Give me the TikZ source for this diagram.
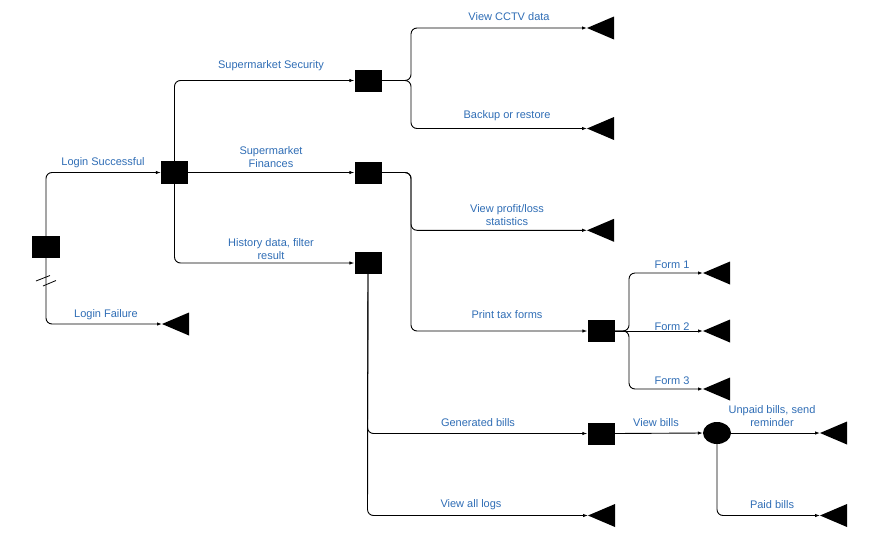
\documentclass[tikz,border=0pt]{standalone}
\usepackage{fontspec}
\setmainfont{Liberation Sans}
\usetikzlibrary{arrows.meta,shapes.geometric}
\definecolor{lbl}{HTML}{2F6DB5}
\tikzset{
  box/.style={draw=none,fill=black,rectangle,minimum width=27pt,minimum height=22pt,inner sep=0pt},
  dot/.style={draw=none,fill=black,ellipse,minimum width=28pt,minimum height=22pt,inner sep=0pt},
  conn/.style={line width=0.9pt,rounded corners=6pt,-{Latex[length=5pt,width=3.5pt]}},
  plain/.style={line width=0.9pt,rounded corners=6pt},
  lab/.style={text=lbl,font=\fontsize{11pt}{13pt}\selectfont,align=center,inner sep=0pt,yshift=-1.5pt},
  tri/.style={fill=black}
}
\newcommand{\myTermTri}[1]{\fill[tri] (#1) -- ++(27,-11.5) -- ++(0,23) -- cycle;}
\begin{document}
\begin{tikzpicture}[x=1pt,y=-1pt]
\useasboundingbox (0,0) rectangle (893,533);
% boxes
\node[box,minimum width=28pt] (login) at (46,247) {};
\node[box,minimum height=23pt] (ls) at (174.5,172.5) {};
\node[box] (sec) at (368,80.5) {};
\node[box] (fin) at (368,172.5) {};
\node[box] (hist) at (368,263) {};
\node[box] (form) at (601,331) {};
\node[box] (gen) at (601,433.5) {};
\node[dot] (ell) at (717,433) {};
% triangle tips
\coordinate (fail) at (162,324);
\coordinate (cctv) at (587,28);
\coordinate (backup) at (587,128.5);
\coordinate (profit) at (587,230.3);
\coordinate (f1) at (703,273);
\coordinate (f2) at (703,331);
\coordinate (f3) at (703,389);
\coordinate (unpaid) at (820,433);
\coordinate (paid) at (820,515.5);
\coordinate (logs) at (588,515.5);
\foreach \t in {fail,cctv,backup,profit,f1,f2,f3,unpaid,paid,logs}{\myTermTri{\t}}
% connectors
\draw[conn] (login.north) -- (46,172.5) -- (ls.west);
\draw[conn] (login.south) -- (46,324) -- (fail);
\draw[line width=0.8pt] (36,281) -- (50,275.5) (43,286) -- (56,280.5);
\draw[conn] (ls.north) -- (174.5,80.5) -- (sec.west);
\draw[conn] (ls.east) -- (fin.west);
\draw[conn] (ls.south) -- (174.5,263) -- (hist.west);
\draw[conn] (sec.east) -- (411,80.5) -- (411,28) -- (cctv);
\draw[conn] (sec.east) -- (411,80.5) -- (411,128.5) -- (backup);
\draw[conn] (fin.east) -- (411,172.5) -- (411,230.3) -- (profit);
\draw[conn] (fin.east) -- (411,172.5) -- (411,331) -- (form.west);
\draw[conn] (form.east) -- (629,331) -- (629,273) -- (f1);
\draw[conn] (form.east) -- (f2);
\draw[conn] (form.east) -- (629,331) -- (629,389) -- (f3);
\draw[conn] (hist.south) -- (367.5,433.5) -- (gen.west);
\draw[conn] (hist.south) -- (367.5,515.5) -- (logs);
\draw[conn] (gen.east) -- (ell.west);
\draw[conn] (ell.east) -- (unpaid);
\draw[conn] (ell.south) -- (717,515.5) -- (paid);
% labels
\node[lab] (l1) at (103,161) {Login Successful};
\node[lab] (l2) at (106,313) {Login Failure};
\node[lab] (l3) at (271,64) {Supermarket Security};
\node[lab] (l4) at (271,156) {Supermarket\\Finances};
\node[lab] (l5) at (271,247.5) {History data, filter\\result};
\node[lab] (l6) at (509,15) {View CCTV data};
\node[lab] (l7) at (507,114) {Backup or restore};
\node[lab] (l8) at (507,214) {View profit/loss\\statistics};
\node[lab] (l9) at (507,313) {Print tax forms};
\node[lab] (l10) at (672,263) {Form 1};
\node[lab] (l11) at (672,325) {Form 2};
\node[lab] (l12) at (672,379) {Form 3};
\node[lab] (l13) at (478,421) {Generated bills};
\node[lab] (l14) at (471,503) {View all logs};
\node[lab] (l15) at (656,421) {View bills};
\node[lab] (l16) at (772,414.5) {Unpaid bills, send\\reminder};
\node[lab] (l17) at (772,503) {Paid bills};
\end{tikzpicture}
\end{document}
